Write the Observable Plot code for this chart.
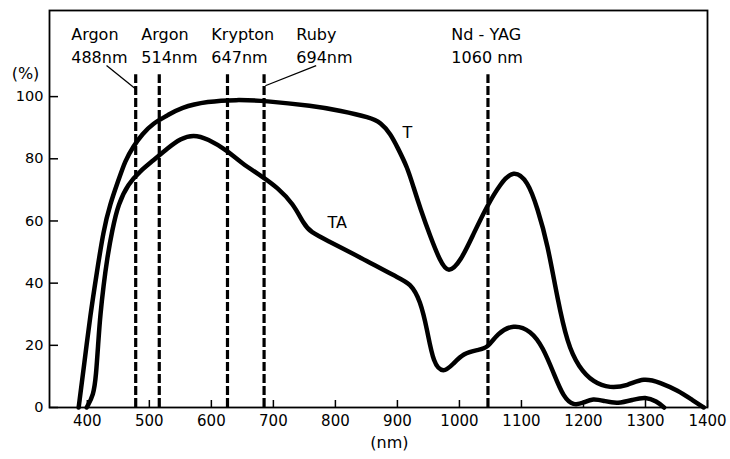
<!DOCTYPE html>
<html>
<head>
<meta charset="utf-8">
<script src="https://cdn.jsdelivr.net/npm/d3@7"></script>
<script src="https://cdn.jsdelivr.net/npm/@observablehq/plot@0.6"></script>
<style>
  html, body { margin: 0; padding: 0; background: #fff; }
  #chart svg { display: block; }
</style>
</head>
<body>
<div id="chart"></div>
<script>
// Transmission curve T (wavelength nm, %)
const tNm  = [386,395,405,415,426,437,450,461,474,489,505,530,550,594,640,685,764,808,856,873,889,900,916,926,937,953,969,982,1002,1023,1045,1066,1087,1110,1126,1142,1158,1174,1192,1216,1243,1271,1297,1324,1352,1377,1394];
const tPct = [0,14,30,43,57,65.6,73,79.4,84,88,91.3,94,96.5,98.5,99,98.7,97,95.5,93.3,91.7,88,83.7,77.3,70.8,64,55,47,43,47,56,65,72,76.5,73,64,52.7,35,20.6,13,8,6.2,7,9.6,8,5.5,2.2,0];

// Curve TA (wavelength nm, %)
const taNm  = [399,410,414,418,421,426,432,440,450,466,485,506,530,550,571,594,626,647,684,706,732,749,760,787,840,900,921,937,948,958,974,990,1006,1030,1045,1061,1087,1115,1135,1152,1168,1184,1200,1215,1235,1255,1280,1300,1318,1330];
const taPct = [0,4,10,22,30,39,48,57,65.6,72,76,79.4,83.5,86.5,87.8,86.5,82.6,78.8,74,70.8,65.6,59,56.4,53.7,48.3,41.8,40,34.4,25,14,11,14,17.4,18.6,19,23.8,26.8,24.8,19.3,11,3.2,0.6,1.5,3,2,1.2,2.5,3.5,2,0];

// Laser lines
const laserNames = ["Argon","Argon","Krypton","Ruby","Nd - YAG"];
const laserLabels = ["488nm","514nm","647nm","694nm","1060 nm"];
const laserLineAt = [478,516,626,685,1046];
const laserLabelAt = [374,487,600,737,987];
const laserTop = 107;

// Leader lines from labels to dashed lines
const leaderFromNm = [431, 769];
const leaderFromPct = [110, 110];
const leaderToNm = [477, 687];
const leaderToPct = [102.6, 103.5];

// Curve labels
const curveNames = ["T","TA"];
const curveLabelNm = [916, 803];
const curveLabelPct = [88.4, 59.5];

const xTicks = [400,500,600,700,800,900,1000,1100,1200,1300,1400];
const yTicks = [0,20,40,60,80,100];

const T = tNm.map((x,i) => ({x, y: tPct[i]}));
const TA = taNm.map((x,i) => ({x, y: taPct[i]}));
const lasers = laserNames.map((n,i) => ({name:n, label:laserLabels[i], at:laserLineAt[i], lx:laserLabelAt[i]}));
const leaders = leaderFromNm.map((x1,i) => ({x1, y1:leaderFromPct[i], x2:leaderToNm[i], y2:leaderToPct[i]}));
const curveLabels = curveNames.map((n,i) => ({n, x:curveLabelNm[i], y:curveLabelPct[i]}));

const xMin = 339, xMax = 1400, yMax = 127.7;
const W = 730, H = 459, mL = 49, mR = 23, mT = 10, mB = 52;
// inward tick lengths expressed through the scales (7px and 9px)
const xTickLen = 7 * yMax / (H - mT - mB);
const yTickLen = 9 * (xMax - xMin) / (W - mL - mR);

const chart = Plot.plot({
  width: W,
  height: H,
  marginLeft: mL,
  marginRight: mR,
  marginTop: mT,
  marginBottom: mB,
  x: {domain: [xMin, xMax]},
  y: {domain: [0, yMax]},
  style: {fontFamily: "'DejaVu Sans', sans-serif", fontSize: "16px", color: "#000", background: "#fff"},
  marks: [
    Plot.frame({stroke: "#000", strokeWidth: 1.8}),
    Plot.axisX({ticks: xTicks, tickSize: 0, tickPadding: 8, tickFormat: d => String(d), fontSize: 15, label: null}),
    Plot.axisY({ticks: yTicks, tickSize: 0, tickPadding: 6, tickFormat: d => String(d), fontSize: 14.5, label: null}),
    Plot.ruleX(xTicks, {x: d => d, y1: 0, y2: xTickLen, stroke: "#000", strokeWidth: 1.5}),
    Plot.ruleY(yTicks, {y: d => d, x1: xMin, x2: xMin + yTickLen, stroke: "#000", strokeWidth: 1.5}),
    Plot.ruleX(lasers, {x: "at", y1: 0, y2: laserTop, stroke: "#000", strokeWidth: 3.2, strokeDasharray: "9,3"}),
    Plot.link(leaders, {x1: "x1", y1: "y1", x2: "x2", y2: "y2", stroke: "#000", strokeWidth: 1.3}),
    Plot.line(T, {x: "x", y: "y", curve: "basis", stroke: "#000", strokeWidth: 4.5}),
    Plot.line(TA, {x: "x", y: "y", curve: "basis", stroke: "#000", strokeWidth: 4.5}),
    Plot.text(lasers, {x: "lx", y: laserTop, text: "name", textAnchor: "start", lineAnchor: "bottom", dy: -35, fontSize: 16}),
    Plot.text(lasers, {x: "lx", y: laserTop, text: "label", textAnchor: "start", lineAnchor: "bottom", dy: -12, fontSize: 16}),
    Plot.text(curveLabels, {x: "x", y: "y", text: "n", fontSize: 16}),
    Plot.text(["(%)"], {x: xMin, y: 107.4, text: d => d, dx: -24, fontSize: 16}),
    Plot.text(["(nm)"], {x: 887, y: 0, text: d => d, dy: 35, fontSize: 16})
  ]
});
document.getElementById("chart").appendChild(chart);
</script>
</body>
</html>
